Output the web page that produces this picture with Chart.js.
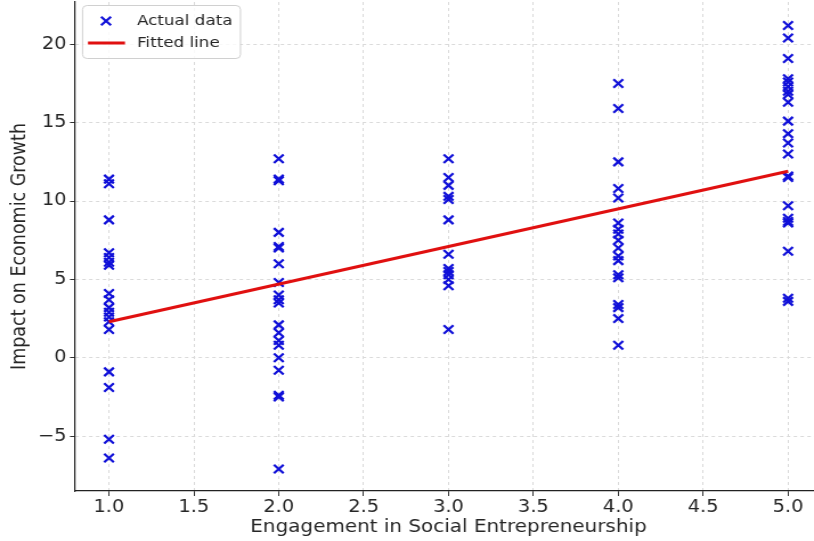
<!DOCTYPE html>
<html>
<head>
<meta charset="utf-8">
<script src="https://cdn.jsdelivr.net/npm/chart.js@4/dist/chart.umd.min.js"></script>
<style>
html,body{margin:0;padding:0;background:#fff;overflow:hidden;}
#wrap{width:814px;height:541px;position:relative;overflow:hidden;}
#c{position:absolute;left:0;top:0;width:725px;height:541px;transform:scaleX(1.14);transform-origin:0 0;}
</style>
</head>
<body>
<div id="wrap"><canvas id="c" width="725" height="541"></canvas></div>
<script>
// Data
const engagementLevels = [1, 2, 3, 4, 5];
const impactAt1 = [11.4, 11.1, 8.8, 6.7, 6.4, 6.1, 5.9, 4.1, 3.7, 3.2, 2.9, 2.6, 2.3, 1.8, -0.9, -1.9, -5.2, -6.4];
const impactAt2 = [12.7, 11.4, 11.3, 8.0, 7.1, 7.0, 6.0, 4.8, 4.0, 3.7, 3.5, 2.1, 1.6, 1.1, 0.8, 0.0, -0.8, -2.4, -2.5, -7.1];
const impactAt3 = [12.7, 11.5, 11.0, 10.3, 10.1, 8.8, 6.6, 5.7, 5.5, 5.3, 5.0, 4.6, 1.8];
const impactAt4 = [17.5, 15.9, 12.5, 10.8, 10.2, 8.6, 8.2, 7.9, 7.5, 7.0, 6.5, 6.2, 5.3, 5.1, 3.4, 3.2, 2.5, 0.8];
const impactAt5 = [21.2, 20.4, 19.1, 17.8, 17.6, 17.3, 17.0, 16.8, 16.3, 15.1, 14.3, 13.7, 13.0, 11.6, 11.5, 9.7, 8.9, 8.7, 8.6, 6.8, 3.8, 3.6];
const fitX = [1, 5];
const fitY = [2.3, 11.9];
const xTickValues = [1.0, 1.5, 2.0, 2.5, 3.0, 3.5, 4.0, 4.5, 5.0];
const yTickValues = [-5, 0, 5, 10, 15, 20];

const groups = [impactAt1, impactAt2, impactAt3, impactAt4, impactAt5];
const scatterPts = [];
groups.forEach((arr, i) => arr.forEach(v => scatterPts.push({x: engagementLevels[i], y: v})));
const linePts = fitX.map((x, i) => ({x: x, y: fitY[i]}));

const FONT = "'DejaVu Sans', sans-serif";
const TXT = '#262626';
const BLUE = '#1010d8';
const RED = '#e01010';
const SX = 1.14; // horizontal stretch applied by CSS
const CW = 725;

const legendPlugin = {
  id: 'boxLegend',
  afterDraw(chart) {
    const ctx = chart.ctx;
    ctx.save();
    const x0 = 82.5 / SX, y0 = 5.5, w = 158 / SX, h = 53;
    ctx.fillStyle = 'rgba(255,255,255,0.8)';
    ctx.strokeStyle = '#d0d0d0';
    ctx.lineWidth = 1;
    const r = 4;
    ctx.beginPath();
    ctx.moveTo(x0 + r, y0);
    ctx.lineTo(x0 + w - r, y0); ctx.arcTo(x0 + w, y0, x0 + w, y0 + r, r);
    ctx.lineTo(x0 + w, y0 + h - r); ctx.arcTo(x0 + w, y0 + h, x0 + w - r, y0 + h, r);
    ctx.lineTo(x0 + r, y0 + h); ctx.arcTo(x0, y0 + h, x0, y0 + h - r, r);
    ctx.lineTo(x0, y0 + r); ctx.arcTo(x0, y0, x0 + r, y0, r);
    ctx.closePath();
    ctx.fill(); ctx.stroke();
    ctx.strokeStyle = BLUE;
    ctx.lineWidth = 2.2;
    const mx = 106 / SX, my = 21, s = 4.3;
    ctx.beginPath();
    ctx.moveTo(mx - s, my - s); ctx.lineTo(mx + s, my + s);
    ctx.moveTo(mx + s, my - s); ctx.lineTo(mx - s, my + s);
    ctx.stroke();
    ctx.strokeStyle = RED;
    ctx.lineWidth = 3;
    ctx.beginPath();
    ctx.moveTo(88 / SX, 43); ctx.lineTo(125 / SX, 43);
    ctx.stroke();
    ctx.fillStyle = TXT;
    ctx.font = "14.7px " + FONT;
    ctx.textBaseline = 'middle';
    ctx.textAlign = 'left';
    ctx.fillText('Actual data', 137 / SX, 21);
    ctx.fillText('Fitted line', 137 / SX, 43);
    ctx.restore();
  }
};

new Chart(document.getElementById('c'), {
  type: 'scatter',
  data: {
    datasets: [
      {
        label: 'Actual data',
        data: scatterPts,
        pointStyle: 'crossRot',
        pointRadius: 6,
        pointHoverRadius: 6,
        borderColor: BLUE,
        backgroundColor: BLUE,
        pointBorderWidth: 2.2,
        order: 2
      },
      {
        label: 'Fitted line',
        type: 'line',
        data: linePts,
        borderColor: RED,
        borderWidth: 3,
        pointRadius: 0,
        fill: false,
        order: 1
      }
    ]
  },
  options: {
    responsive: false,
    animation: false,
    layout: {autoPadding: false, padding: {top: 2, right: CW - 822 / SX, left: 0, bottom: 0}},
    plugins: {legend: {display: false}, tooltip: {enabled: false}},
    scales: {
      x: {
        type: 'linear',
        min: 0.8,
        max: 5.2,
        afterBuildTicks: s => { s.ticks = xTickValues.map(v => ({value: v})); },
        afterFit: s => { s.height = 50; s.paddingLeft = 0; s.paddingRight = 0; },
        ticks: {
          color: TXT,
          font: {family: FONT, size: 17},
          padding: 1,
          maxRotation: 0,
          callback: v => Number(v).toFixed(1)
        },
        grid: {color: '#dadada', lineWidth: 1, tickLength: 5, tickColor: '#333', tickBorderDash: [], tickWidth: 1},
        border: {display: true, color: '#222', width: 1.2, dash: [3, 3]},
        title: {display: true, text: 'Engagement in Social Entrepreneurship', color: TXT, font: {family: FONT, size: 17.5}, padding: {top: 0, bottom: 3}}
      },
      y: {
        type: 'linear',
        min: -8.5,
        max: 22.7,
        afterBuildTicks: s => { s.ticks = yTickValues.map(v => ({value: v})); },
        afterFit: s => { s.width = 75 / SX; s.paddingTop = 0; s.paddingBottom = 0; },
        ticks: {
          color: TXT,
          font: {family: FONT, size: 17},
          padding: 3,
          callback: v => (v < 0 ? '\u2212' + Math.abs(v) : String(v))
        },
        grid: {color: '#dadada', lineWidth: 1, tickLength: 4.4, tickColor: '#333', tickBorderDash: [], tickWidth: 1},
        border: {display: true, color: '#222', width: 1.2, dash: [3, 3]},
        title: {display: true, text: 'Impact on Economic Growth', color: TXT, font: {family: FONT, size: 17.5}, padding: {top: 7, bottom: 2}}
      }
    }
  },
  plugins: [legendPlugin]
});
</script>
</body>
</html>
